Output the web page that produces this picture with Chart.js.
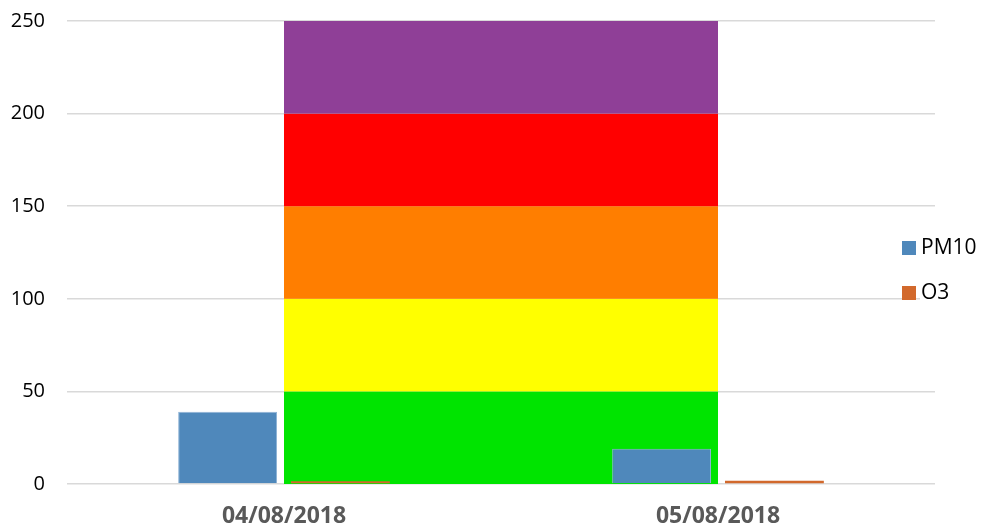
<!DOCTYPE html>
<html>
<head>
<meta charset="utf-8">
<script src="https://cdn.jsdelivr.net/npm/chart.js@4.4.1/dist/chart.umd.min.js"></script>
<style>
  html, body { margin: 0; padding: 0; background: #fff; }
  #wrap { width: 983px; height: 525px; position: relative; }
</style>
</head>
<body>
<div id="wrap"><canvas id="aqChart"></canvas></div>
<script>
const dates = ["04/08/2018", "05/08/2018"];
const pm10 = [39, 19];
const o3 = [1.5, 1.8];

// AQI background bands, spanning from the first date to the second
const bandLows = [0, 50, 100, 150, 200];
const bandHighs = [50, 100, 150, 200, 250];
const bandColors = ["#00E400", "#FFFF00", "#FF7E00", "#FF0000", "#8F3F97"];

const yTicks = [0, 50, 100, 150, 200, 250];

// draws the bands with the chart's scales, after the grid and before the bars
const bandPlugin = {
    id: "aqiBands",
    beforeDatasetsDraw(chart) {
        const { ctx, scales: { x, y } } = chart;
        const x0 = x.getPixelForValue(0);
        const x1 = x.getPixelForValue(dates.length - 1);
        ctx.save();
        bandLows.forEach((lo, i) => {
            const yTop = y.getPixelForValue(bandHighs[i]);
            const yBot = y.getPixelForValue(lo);
            ctx.fillStyle = bandColors[i];
            ctx.fillRect(x0, yTop, x1 - x0, yBot - yTop);
        });
        ctx.restore();
    }
};

const legendPlugin = {
    id: "sideLegend",
    afterDraw(chart) {
        const ctx = chart.ctx;
        ctx.save();
        ctx.fillStyle = "#fff";
        ctx.fillRect(920, 232, 60, 75);
        chart.data.datasets.forEach((d, i) => {
            const cy = 248 + i * 45;
            ctx.fillStyle = d.backgroundColor;
            ctx.fillRect(902, cy - 7, 14, 14);
            ctx.fillStyle = "#000";
            ctx.font = "21px 'Open Sans'";
            ctx.textBaseline = "middle";
            ctx.fillText(d.label, 921, cy);
        });
        ctx.restore();
    }
};

new Chart(document.getElementById("aqChart"), {
    type: "bar",
    data: {
        labels: dates,
        datasets: [
            {
                label: "PM10",
                data: pm10,
                backgroundColor: "#4F88BB",
                borderColor: "#8FB3D6",
                borderWidth: 1,
                categoryPercentage: 0.52,
                barPercentage: 0.876
            },
            {
                label: "O3",
                data: o3,
                backgroundColor: "#D2692C",
                borderWidth: 0,
                categoryPercentage: 0.52,
                barPercentage: 0.876
            }
        ]
    },
    options: {
        responsive: true,
        maintainAspectRatio: false,
        animation: false,
        layout: { padding: { top: 21, right: 48, left: 0, bottom: 0 } },
        plugins: {
            legend: { display: false },
            tooltip: { enabled: false }
        },
        scales: {
            x: {
                grid: { display: false, drawTicks: false },
                border: { display: false },
                ticks: {
                    color: "#595959",
                    font: { family: "'Open Sans'", size: 23, weight: "bold" },
                    padding: 19
                },
                afterFit(scale) { scale.height = 41; }
            },
            y: {
                min: 0,
                max: 250,
                afterBuildTicks(scale) { scale.ticks = yTicks.map(v => ({ value: v })); },
                grid: { color: "#D9D9D9", lineWidth: 1.5, drawTicks: false },
                border: { display: false },
                ticks: {
                    color: "#000",
                    font: { family: "'Open Sans'", size: 20 },
                    padding: 22
                },
                afterFit(scale) {
                    scale.width = 67;
                    scale.paddingTop = 0;
                    scale.paddingBottom = 0;
                }
            }
        }
    },
    plugins: [bandPlugin, legendPlugin]
});
</script>
</body>
</html>
